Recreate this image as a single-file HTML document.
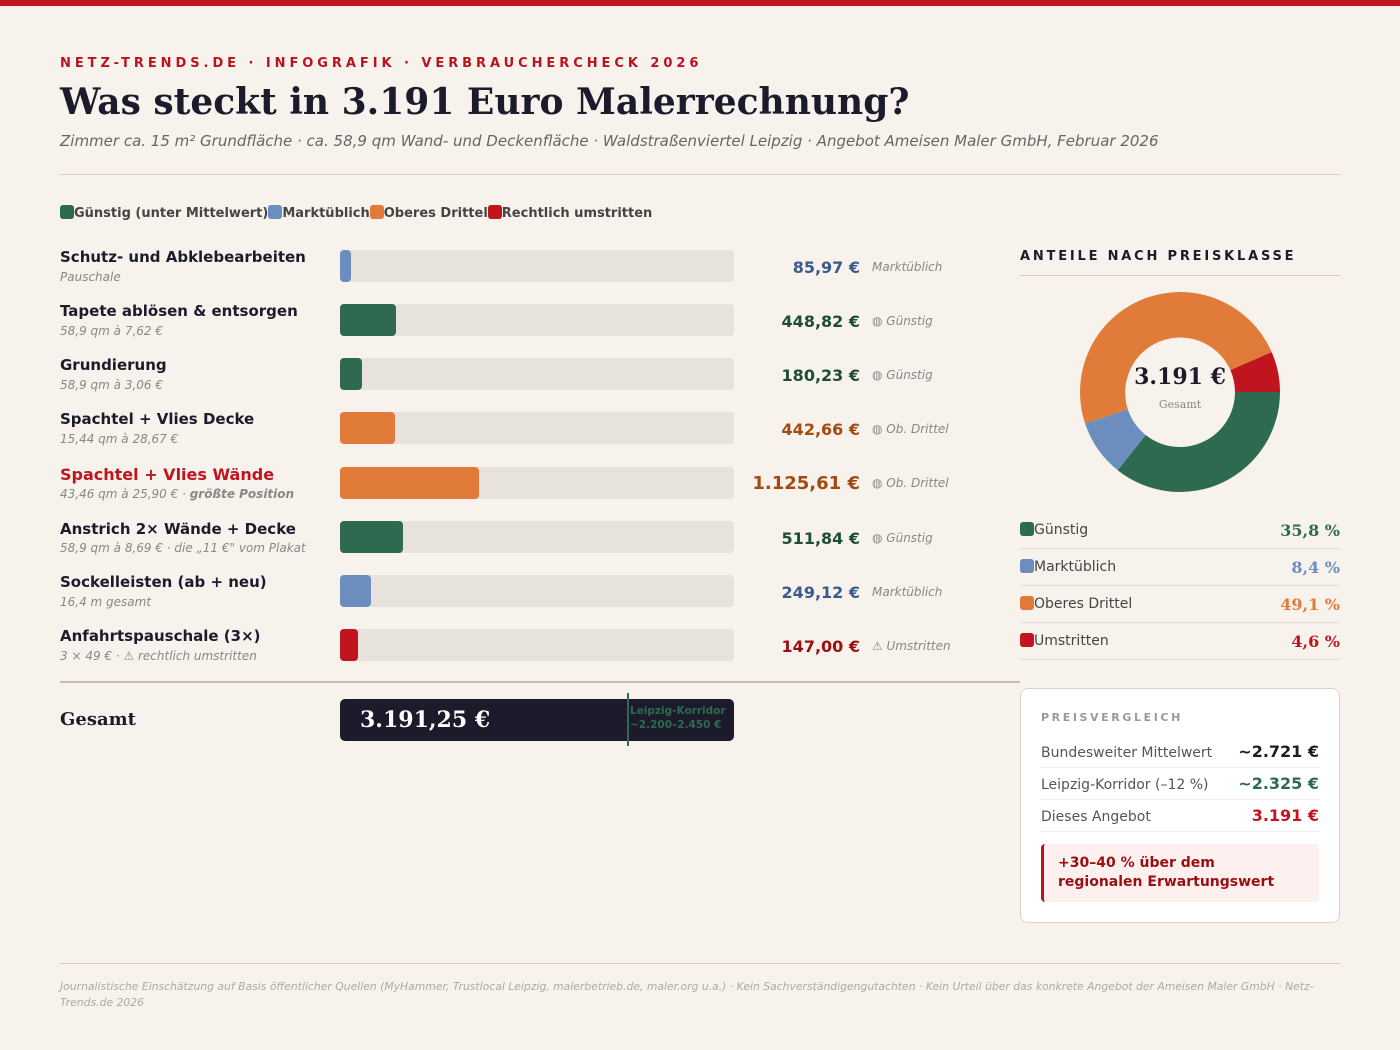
<!DOCTYPE html>
<html><head><meta charset="utf-8"><style>
*{margin:0;padding:0;box-sizing:border-box}
body{width:1400px;height:1050px;background:#f7f2ec;font-family:"DejaVu Sans","Liberation Sans",sans-serif;position:relative;overflow:hidden;color:#1b1b2c}
.a{position:absolute;white-space:nowrap}
.serif{font-family:"DejaVu Serif","Liberation Serif",serif}
.lbl{font-weight:bold;font-size:15px;color:#1b1b2c}
.sub{font-style:italic;font-size:12px;color:#888}
.track{position:absolute;left:340px;width:394px;height:32px;background:#e7e2dc;border-radius:4px}
.fill{position:absolute;left:0;top:0;height:32px;border-radius:4px}
.val{position:absolute;right:540px;font-weight:bold;font-size:16px;text-align:right}
.tag{position:absolute;left:872px;font-style:italic;font-size:12px;color:#888}
.sw{display:inline-block;width:14px;height:14px;border-radius:3px;vertical-align:-2px}
</style></head><body>
<div class="a" style="left:0;top:0;width:1400px;height:6px;background:#c0141f"></div>
<div class="a" style="left:60px;top:56px;font-size:13px;font-weight:bold;letter-spacing:3.95px;color:#b8141e">NETZ-TRENDS.DE · INFOGRAFIK · VERBRAUCHERCHECK 2026</div>
<div class="a serif" style="left:60px;top:81px;font-size:36px;font-weight:bold;color:#1b1b2c">Was steckt in 3.191 Euro Malerrechnung?</div>
<div class="a" style="left:60px;top:132px;font-size:15px;font-style:italic;color:#666">Zimmer ca. 15 m² Grundfläche · ca. 58,9 qm Wand- und Deckenfläche · Waldstraßenviertel Leipzig · Angebot Ameisen Maler GmbH, Februar 2026</div>
<div class="a" style="left:60px;top:174px;width:1280px;height:1px;background:#dccbbb"></div>

<div class="a" style="left:60px;top:205px;font-size:13px;font-weight:bold;color:#444"><span class="sw" style="background:#2d6a4f"></span>Günstig (unter Mittelwert)<span class="sw" style="background:#6b8ebf"></span>Marktüblich<span class="sw" style="background:#e07b39"></span>Oberes Drittel<span class="sw" style="background:#c0141f"></span>Rechtlich umstritten</div>

<!-- rows -->
<div class="a lbl" style="left:60px;top:248px">Schutz- und Abklebearbeiten</div>
<div class="a sub" style="left:60px;top:270px">Pauschale</div>
<div class="track" style="top:250px"><div class="fill" style="width:11px;background:#6b8ebf"></div></div>
<div class="val" style="top:258px;color:#3a5a8c">85,97 €</div><div class="tag" style="top:260px">Marktüblich</div>

<div class="a lbl" style="left:60px;top:302px">Tapete ablösen &amp; entsorgen</div>
<div class="a sub" style="left:60px;top:324px">58,9 qm à 7,62 €</div>
<div class="track" style="top:304px"><div class="fill" style="width:56px;background:#2d6a4f"></div></div>
<div class="val" style="top:312px;color:#1e4d36">448,82 €</div><div class="tag" style="top:314px">◍ Günstig</div>

<div class="a lbl" style="left:60px;top:356px">Grundierung</div>
<div class="a sub" style="left:60px;top:378px">58,9 qm à 3,06 €</div>
<div class="track" style="top:358px"><div class="fill" style="width:22px;background:#2d6a4f"></div></div>
<div class="val" style="top:366px;color:#1e4d36">180,23 €</div><div class="tag" style="top:368px">◍ Günstig</div>

<div class="a lbl" style="left:60px;top:410px">Spachtel + Vlies Decke</div>
<div class="a sub" style="left:60px;top:432px">15,44 qm à 28,67 €</div>
<div class="track" style="top:412px"><div class="fill" style="width:55px;background:#e07b39"></div></div>
<div class="val" style="top:420px;color:#a34a12">442,66 €</div><div class="tag" style="top:422px">◍ Ob. Drittel</div>

<div class="a lbl" style="left:60px;top:465px;color:#c0141f;font-size:16px">Spachtel + Vlies Wände</div>
<div class="a sub" style="left:60px;top:487px">43,46 qm à 25,90 € · <b>größte Position</b></div>
<div class="track" style="top:467px"><div class="fill" style="width:139px;background:#e07b39"></div></div>
<div class="val" style="top:473px;color:#a34a12;font-size:18px">1.125,61 €</div><div class="tag" style="top:476px">◍ Ob. Drittel</div>

<div class="a lbl" style="left:60px;top:520px">Anstrich 2× Wände + Decke</div>
<div class="a sub" style="left:60px;top:541px">58,9 qm à 8,69 € · die „11 €" vom Plakat</div>
<div class="track" style="top:521px"><div class="fill" style="width:63px;background:#2d6a4f"></div></div>
<div class="val" style="top:529px;color:#1e4d36">511,84 €</div><div class="tag" style="top:531px">◍ Günstig</div>

<div class="a lbl" style="left:60px;top:573px">Sockelleisten (ab + neu)</div>
<div class="a sub" style="left:60px;top:595px">16,4 m gesamt</div>
<div class="track" style="top:575px"><div class="fill" style="width:31px;background:#6b8ebf"></div></div>
<div class="val" style="top:583px;color:#3a5a8c">249,12 €</div><div class="tag" style="top:585px">Marktüblich</div>

<div class="a lbl" style="left:60px;top:627px">Anfahrtspauschale (3×)</div>
<div class="a sub" style="left:60px;top:649px">3 × 49 € · ⚠ rechtlich umstritten</div>
<div class="track" style="top:629px"><div class="fill" style="width:18px;background:#c0141f"></div></div>
<div class="val" style="top:637px;color:#9b0e12">147,00 €</div><div class="tag" style="top:639px">⚠ Umstritten</div>

<div class="a" style="left:60px;top:681px;width:960px;height:2px;background:#cbbca8"></div>
<div class="a serif" style="left:60px;top:709px;font-size:18px;font-weight:bold">Gesamt</div>
<div class="a" style="left:340px;top:699px;width:394px;height:42px;background:#1b1b2c;border-radius:5px"></div>
<div class="a serif" style="left:360px;top:707px;font-size:22px;font-weight:bold;color:#fff">3.191,25 €</div>
<div class="a" style="left:627px;top:693px;width:2px;height:53px;background:#2d6a4f"></div>
<div class="a" style="left:630px;top:704px;font-size:10.5px;font-weight:bold;color:#2d6a4f;line-height:14px">Leipzig-Korridor<br>~2.200–2.450 €</div>

<!-- right -->
<div class="a" style="left:1020px;top:249px;font-size:13px;font-weight:bold;letter-spacing:2.8px">ANTEILE NACH PREISKLASSE</div>
<div class="a" style="left:1020px;top:275px;width:320px;height:1px;background:#dccbbb"></div>
<svg class="a" style="left:1080px;top:292px" width="200" height="200" viewBox="-100 -100 200 200">
<g stroke="none">
<path d="M100 0 A100 100 0 0 1 -62.3 78.2 L-34.3 43 A55 55 0 0 0 55 0Z" fill="#2d6a4f"/>
<path d="M-62.3 78.2 A100 100 0 0 1 -94.9 31.5 L-52.2 17.3 A55 55 0 0 0 -34.3 43Z" fill="#6b8ebf"/>
<path d="M-94.9 31.5 A100 100 0 0 1 91.7 -39.9 L50.4 -21.9 A55 55 0 0 0 -52.2 17.3Z" fill="#e07b39"/>
<path d="M91.7 -39.9 A100 100 0 0 1 100 0 L55 0 A55 55 0 0 0 50.4 -21.9Z" fill="#c0141f"/>
</g>
<text x="0" y="-8" text-anchor="middle" font-family="DejaVu Serif,serif" font-weight="bold" font-size="22" fill="#1b1b2c">3.191 €</text>
<text x="0" y="16" text-anchor="middle" font-family="DejaVu Serif,serif" font-size="11" fill="#888">Gesamt</text>
</svg>

<div class="a" style="left:1020px;top:522px;font-size:14px;color:#444"><span class="sw" style="background:#2d6a4f"></span>Günstig</div>
<div class="a serif" style="right:60px;top:521px;font-size:16px;font-weight:bold;color:#2d6a4f">35,8 %</div>
<div class="a" style="left:1020px;top:548px;width:320px;height:1px;background:#e4dbd0"></div>
<div class="a" style="left:1020px;top:559px;font-size:14px;color:#444"><span class="sw" style="background:#6b8ebf"></span>Marktüblich</div>
<div class="a serif" style="right:60px;top:558px;font-size:16px;font-weight:bold;color:#6b8ebf">8,4 %</div>
<div class="a" style="left:1020px;top:585px;width:320px;height:1px;background:#e4dbd0"></div>
<div class="a" style="left:1020px;top:596px;font-size:14px;color:#444"><span class="sw" style="background:#e07b39"></span>Oberes Drittel</div>
<div class="a serif" style="right:60px;top:595px;font-size:16px;font-weight:bold;color:#e07b39">49,1 %</div>
<div class="a" style="left:1020px;top:622px;width:320px;height:1px;background:#e4dbd0"></div>
<div class="a" style="left:1020px;top:633px;font-size:14px;color:#444"><span class="sw" style="background:#c0141f"></span>Umstritten</div>
<div class="a serif" style="right:60px;top:632px;font-size:16px;font-weight:bold;color:#c0141f">4,6 %</div>
<div class="a" style="left:1020px;top:659px;width:320px;height:1px;background:#e4dbd0"></div>

<div class="a" style="left:1020px;top:688px;width:320px;height:235px;background:#fff;border:1px solid #ddd0bf;border-radius:8px"></div>
<div class="a" style="left:1041px;top:711px;font-size:11px;font-weight:bold;letter-spacing:2.6px;color:#999">PREISVERGLEICH</div>
<div class="a" style="left:1041px;top:745px;font-size:14px;color:#555">Bundesweiter Mittelwert</div>
<div class="a" style="right:81px;top:742px;font-size:16px;font-weight:bold;color:#1b1b2c">~2.721 €</div>
<div class="a" style="left:1041px;top:767px;width:278px;height:1px;background:#eee"></div>
<div class="a" style="left:1041px;top:777px;font-size:14px;color:#555">Leipzig-Korridor (–12 %)</div>
<div class="a" style="right:81px;top:774px;font-size:16px;font-weight:bold;color:#2d6a4f">~2.325 €</div>
<div class="a" style="left:1041px;top:799px;width:278px;height:1px;background:#eee"></div>
<div class="a" style="left:1041px;top:809px;font-size:14px;color:#555">Dieses Angebot</div>
<div class="a" style="right:81px;top:806px;font-size:16px;font-weight:bold;color:#c0141f">3.191 €</div>
<div class="a" style="left:1041px;top:831px;width:278px;height:1px;background:#eee"></div>
<div class="a" style="left:1041px;top:844px;width:278px;height:58px;background:#fdf0ef;border-left:3px solid #b8141e;border-radius:4px"></div>
<div class="a" style="left:1058px;top:854px;font-size:14px;font-weight:bold;color:#9b0e12;line-height:19px">+30–40 % über dem<br>regionalen Erwartungswert</div>

<div class="a" style="left:60px;top:963px;width:1280px;height:1px;background:#dccbbb"></div>
<div class="a" style="left:60px;top:979px;width:1285px;white-space:normal;font-size:10.8px;font-style:italic;color:#aaa;line-height:16px">Journalistische Einschätzung auf Basis öffentlicher Quellen (MyHammer, Trustlocal Leipzig, malerbetrieb.de, maler.org u.a.) · Kein Sachverständigengutachten · Kein Urteil über das konkrete Angebot der Ameisen Maler GmbH · Netz-Trends.de 2026</div>
</body></html>
